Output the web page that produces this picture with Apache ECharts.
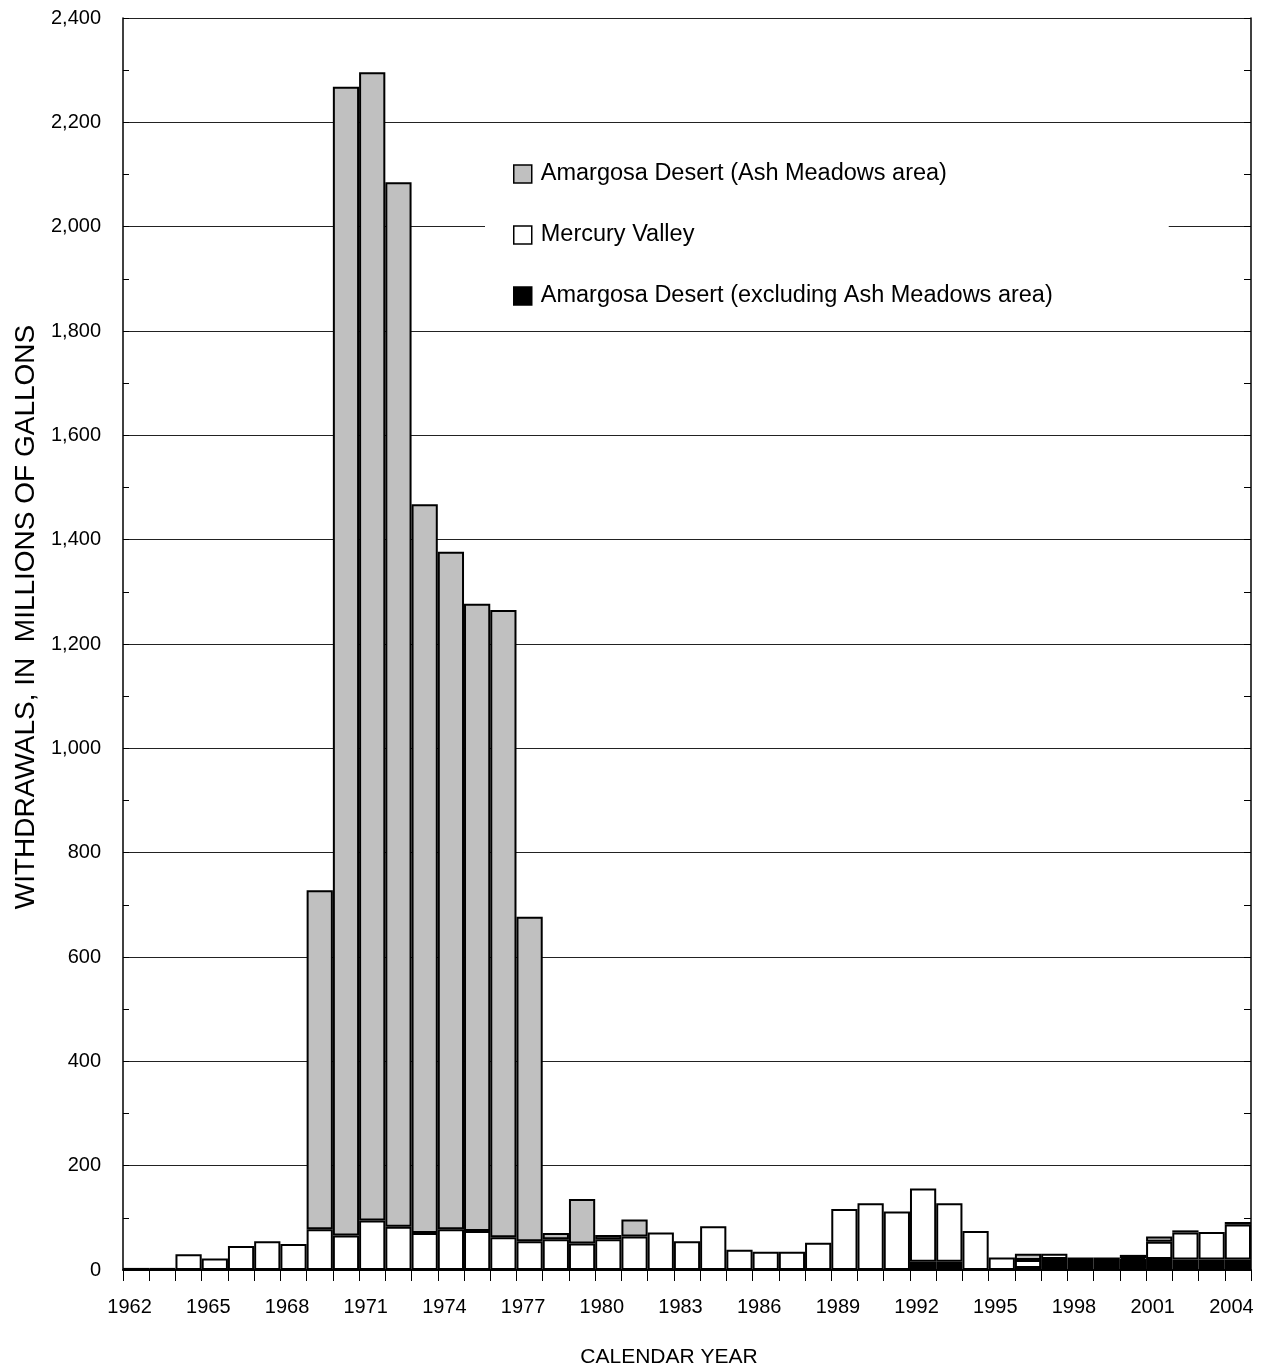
<!DOCTYPE html>
<html>
<head>
<meta charset="utf-8">
<script src="https://cdn.jsdelivr.net/npm/echarts@6/dist/echarts.min.js"></script>
<style>
html,body{margin:0;padding:0;background:#fff;}
#chart{width:1277px;height:1370px;}
</style>
</head>
<body>
<div id="chart"></div>
<script>
const years = [];
for (let y = 1962; y <= 2004; y++) years.push(String(y));

// Amargosa Desert (excluding Ash Meadows area) - black, bottom of stack
const amargosaExcl = [0,0,0,0,0,0,0,0,0,0, 0,0,0,0,0,0,0,0,0,0, 0,0,0,0,0,0,0,0,0,0, 16,16,0,0,4,21,24,24,21,21, 20,20,20];
// Mercury Valley - white, middle
const mercury = [4,4,30,22,46,55,50,78,66,95, 83,71,78,75,63,55,59,51,59,64, 72,55,84,39,35,35,52,117,128,112, 140,112,75,24,15,10,0,0,2,33, 52,53,67];
// Amargosa Desert (Ash Meadows area) - gray, top
const ashMeadows = [0,0,0,0,0,0,0,650,2202,2201, 2002,1397,1299,1202,1202,622,12,85,8,33, 0,0,0,0,0,0,0,0,0,0, 0,0,0,0,12,0,0,0,6,10, 4,0,5];

const yTicks = {min: 0, max: 2400, interval: 200};

const FONT = "'Liberation Sans', Arial, Helvetica, sans-serif";
const nz = a => a.map(v => (v === 0 ? null : v));

const chart = echarts.init(document.getElementById('chart'), null, {renderer: 'canvas'});
const border = {borderColor: '#000', borderWidth: 2};

chart.setOption({
  animation: false,
  backgroundColor: '#fff',
  textStyle: {fontFamily: FONT, color: '#000'},
  grid: {left: 123, right: 26, top: 18, bottom: 100, containLabel: false, outerBoundsMode: 'none'},
  legend: {
    orient: 'vertical',
    left: 485,
    top: 150,
    padding: [12, 116, 12, 28],
    itemGap: 37,
    itemWidth: 18,
    itemHeight: 18,
    icon: 'rect',
    backgroundColor: '#fff',
    selectedMode: false,
    itemStyle: {borderColor: '#000', borderWidth: 1.5},
    textStyle: {fontSize: 23.5, fontFamily: FONT, color: '#000', padding: [0, 0, 0, 4]},
    data: ['Amargosa Desert (Ash Meadows area)', 'Mercury Valley', 'Amargosa Desert (excluding Ash Meadows area)']
  },
  xAxis: [{
    type: 'category',
    data: years,
    position: 'bottom',
    name: 'CALENDAR YEAR',
    nameLocation: 'middle',
    nameGap: 77,
    nameTextStyle: {fontSize: 21, fontFamily: FONT, color: '#000', padding: [0, 36, 0, 0]},
    axisLine: {lineStyle: {color: '#000', width: 1.5}},
    axisTick: {show: true, inside: false, length: 8, interval: 0, lineStyle: {color: '#000', width: 1}},
    axisLabel: {interval: 2, fontSize: 20, fontFamily: FONT, color: '#000', margin: 27, padding: [0, 13, 0, 0]},
    splitLine: {show: false}
  }, {
    type: 'category',
    data: years,
    position: 'top',
    axisLine: {lineStyle: {color: '#000', width: 1.5}},
    axisTick: {show: true, inside: true, length: 11, interval: 0, lineStyle: {color: '#000', width: 1}},
    axisLabel: {show: false},
    splitLine: {show: false}
  }],
  yAxis: [{
    type: 'value',
    min: yTicks.min, max: yTicks.max, interval: yTicks.interval,
    position: 'left',
    name: 'WITHDRAWALS, IN  MILLIONS OF GALLONS',
    nameLocation: 'middle',
    nameGap: 83,
    nameTextStyle: {fontSize: 28, fontFamily: FONT, color: '#000', padding: [0, 0, 0, 54]},
    axisLine: {show: true, lineStyle: {color: '#000', width: 1.5}},
    axisTick: {show: true, inside: true, length: 6, lineStyle: {color: '#000'}},
    minorTick: {show: true, splitNumber: 2, length: 6, lineStyle: {color: '#000'}},
    axisLabel: {fontSize: 20, fontFamily: FONT, color: '#000', margin: 22,
      formatter: v => v.toLocaleString('en-US')},
    splitLine: {show: true, lineStyle: {color: '#222', width: 1}}
  }, {
    type: 'value',
    min: yTicks.min, max: yTicks.max, interval: yTicks.interval,
    position: 'right',
    axisLine: {show: true, lineStyle: {color: '#000', width: 1.5}},
    axisTick: {show: true, inside: true, length: 7, lineStyle: {color: '#000'}},
    minorTick: {show: true, splitNumber: 2, length: 7, lineStyle: {color: '#000'}},
    axisLabel: {show: false},
    splitLine: {show: false}
  }],
  series: [{
    name: 'Amargosa Desert (excluding Ash Meadows area)',
    type: 'bar', stack: 'w', xAxisIndex: 0, yAxisIndex: 0,
    barCategoryGap: 0,
    itemStyle: Object.assign({color: '#000'}, border),
    data: nz(amargosaExcl)
  }, {
    name: 'Mercury Valley',
    type: 'bar', stack: 'w', xAxisIndex: 0, yAxisIndex: 0,
    barCategoryGap: 0,
    itemStyle: Object.assign({color: '#fff'}, border),
    data: nz(mercury)
  }, {
    name: 'Amargosa Desert (Ash Meadows area)',
    type: 'bar', stack: 'w', xAxisIndex: 0, yAxisIndex: 0,
    barCategoryGap: 0,
    itemStyle: Object.assign({color: '#c0c0c0'}, border),
    data: nz(ashMeadows)
  }]
});
</script>
</body>
</html>
